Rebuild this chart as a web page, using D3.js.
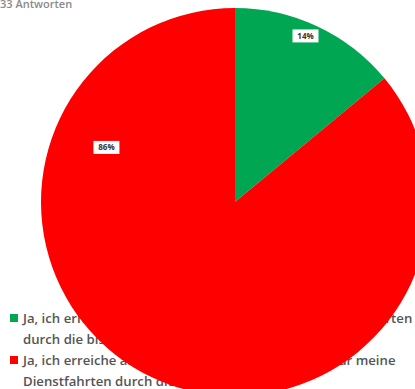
<!DOCTYPE html>
<html>
<head>
<meta charset="utf-8">
<script src="https://cdn.jsdelivr.net/npm/d3@7/dist/d3.min.js"></script>
<style>
  body { margin: 0; background: #fff; }
  svg { display: block; font-family: "Open Sans", sans-serif; }
</style>
</head>
<body>
<div id="chart"></div>
<script>
// answers to the survey question
var title = "33 Antworten";
var categories = ["erhalte", "keine"];
var values = [14, 86];
var colors = ["#00A651", "#FF0000"];
// legend lines, as wrapped in the original
var legend_lines = [
    ["Ja, ich erhalte eine Kostenerstattung für meine Dienstfahrten",
     "durch die bisherige Stelle"],
    ["Ja, ich erreiche aber keine Kostenrückerstattung für meine",
     "Dienstfahrten durch die bisherige Stelle"]
];

var width = 415, height = 389;
var cx = 235, cy = 202, radius = 194;
// where the data labels sit: angle (deg, clockwise from top) and share of radius
var label_pos = [[23, 0.93], [293, 0.72]];

var svg = d3.select("#chart").append("svg")
    .attr("width", width)
    .attr("height", height);

// title, partly cut at the top
svg.append("text")
    .attr("x", 0)
    .attr("y", 8)
    .attr("fill", "#8a8a8a")
    .style("font-size", "11px")
    .style("font-weight", 600)
    .text(title);

// legend goes first, the pie is painted over it
var legend = svg.append("g").attr("class", "legend");
legend_lines.forEach(function(lines, i) {
    var y0 = 318 + i * 42;
    legend.append("rect")
        .attr("x", 10)
        .attr("y", y0 - 4)
        .attr("width", 8)
        .attr("height", 8)
        .attr("fill", colors[i]);
    lines.forEach(function(line, j) {
        legend.append("text")
            .attr("x", 23)
            .attr("y", y0 + 5 + j * 21)
            .attr("fill", "#555")
            .style("font-size", "13.2px")
            .style("font-weight", 600)
            .text(line);
    });
});

var pie = d3.pie().sort(null).value(function(d) { return d; });
var arc = d3.arc().innerRadius(0).outerRadius(radius);

var g = svg.append("g").attr("transform", "translate(" + cx + "," + cy + ")");
var arcs = pie(values);

g.selectAll("path")
    .data(arcs)
    .enter()
    .append("path")
    .attr("d", arc)
    .attr("fill", function(d, i) { return colors[i]; });

// data labels in white boxes
var labels = g.selectAll(".lbl")
    .data(arcs)
    .enter()
    .append("g")
    .attr("class", "lbl")
    .attr("transform", function(d, i) {
        var a = label_pos[i][0] * Math.PI / 180;
        var r = label_pos[i][1] * radius;
        return "translate(" + (r * Math.sin(a)) + "," + (-r * Math.cos(a)) + ")";
    });

labels.append("rect")
    .attr("x", -13)
    .attr("y", -6.5)
    .attr("width", 26)
    .attr("height", 13)
    .attr("fill", "#fff");

labels.append("text")
    .attr("text-anchor", "middle")
    .attr("dy", "0.35em")
    .attr("fill", "#333")
    .style("font-size", "8px")
    .style("font-weight", 700)
    .text(function(d) { return d.value + "%"; });
</script>
</body>
</html>
